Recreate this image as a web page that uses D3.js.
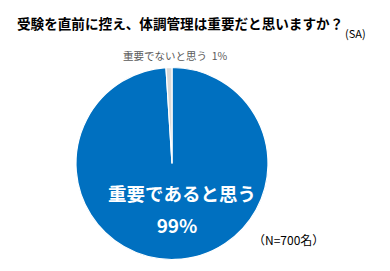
<!DOCTYPE html>
<html lang="ja">
<head>
<meta charset="utf-8">
<title>体調管理は重要だと思いますか</title>
<script src="https://d3js.org/d3.v7.min.js"></script>
<style>
  body { margin: 0; background: #fff; }
  text { font-family: "Noto Sans CJK JP", "Noto Sans", sans-serif; }
</style>
</head>
<body>
<svg width="390" height="271"></svg>
<script>
// data
var categories = ["重要であると思う", "重要でないと思う"];
var values = [99, 1];
var colors = ["#0070c0", "#d9d9d9"];

var svg = d3.select("svg");
var cx = 172, cy = 163.5, radius = 96;

// title
svg.append("text")
    .attr("x", 17)
    .attr("y", 29)
    .style("font-size", "13.6px")
    .style("font-weight", "bold")
    .attr("fill", "#000")
    .text("受験を直前に控え、体調管理は重要だと思いますか？");

svg.append("text")
    .attr("x", 345)
    .attr("y", 38)
    .style("font-size", "11px")
    .attr("fill", "#000")
    .text("(SA)");

// pie: blue from 12 o'clock clockwise, grey slice ends at 12 o'clock
var pie = d3.pie().sort(null);
var arc = d3.arc().innerRadius(0).outerRadius(radius);

var g = svg.append("g").attr("transform", "translate(" + cx + "," + cy + ")");

g.selectAll("path")
    .data(pie(values))
    .enter().append("path")
    .attr("d", arc)
    .attr("fill", function(d, i) { return colors[i]; })
    .attr("stroke", "#fff")
    .attr("stroke-width", 1.2);

// labels
svg.append("text")
    .attr("x", 182)
    .attr("y", 201)
    .attr("text-anchor", "middle")
    .style("font-size", "18.5px")
    .style("font-weight", "bold")
    .attr("fill", "#fff")
    .text(categories[0]);

svg.append("text")
    .attr("x", 177)
    .attr("y", 233)
    .attr("text-anchor", "middle")
    .style("font-size", "19px")
    .style("font-weight", "bold")
    .attr("fill", "#fff")
    .text(values[0] + "%");

svg.append("text")
    .attr("x", 123)
    .attr("y", 60)
    .style("font-size", "10.5px")
    .attr("fill", "#595959")
    .style("white-space", "pre")
    .text(categories[1] + "  " + values[1] + "%");

svg.append("text")
    .attr("x", 253)
    .attr("y", 245)
    .style("font-size", "12px")
    .attr("fill", "#000")
    .text("（N=700名）");
</script>
</body>
</html>
